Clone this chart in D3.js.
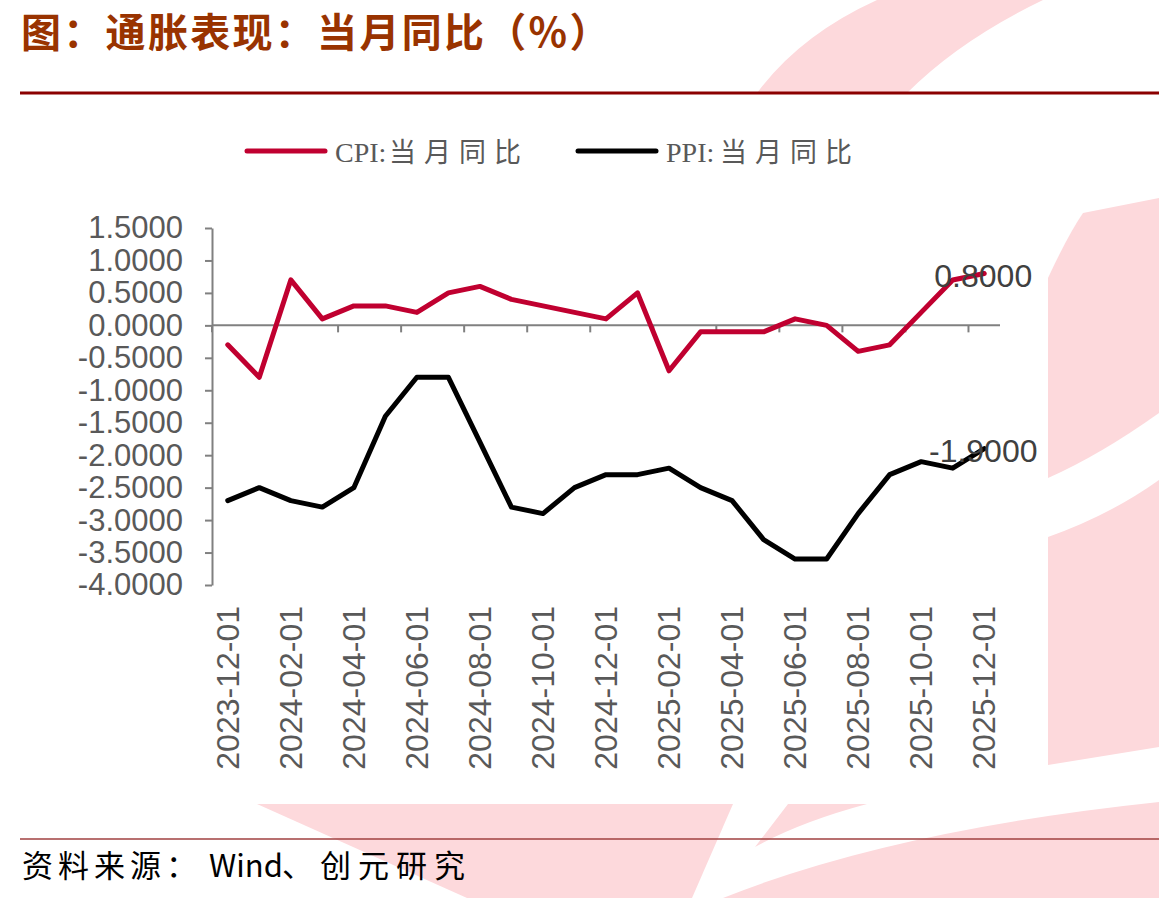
<!DOCTYPE html>
<html>
<head>
<meta charset="utf-8">
<script src="https://cdn.jsdelivr.net/npm/d3@7"></script>
<style>
  body { margin: 0; background: #fff; }
  svg { display: block; }
</style>
</head>
<body>
<div id="chart"></div>
<script>
// data
var months = ["2023-12-01","2024-01-01","2024-02-01","2024-03-01","2024-04-01","2024-05-01",
              "2024-06-01","2024-07-01","2024-08-01","2024-09-01","2024-10-01","2024-11-01",
              "2024-12-01","2025-01-01","2025-02-01","2025-03-01","2025-04-01","2025-05-01",
              "2025-06-01","2025-07-01","2025-08-01","2025-09-01","2025-10-01","2025-11-01",
              "2025-12-01"];
var cpi = [-0.3, -0.8, 0.7, 0.1, 0.3, 0.3, 0.2, 0.5, 0.6, 0.4, 0.3, 0.2,
           0.1, 0.5, -0.7, -0.1, -0.1, -0.1, 0.1, 0.0, -0.4, -0.3, 0.2, 0.7, 0.8];
var ppi = [-2.7, -2.5, -2.7, -2.8, -2.5, -1.4, -0.8, -0.8, -1.8, -2.8, -2.9, -2.5,
           -2.3, -2.3, -2.2, -2.5, -2.7, -3.3, -3.6, -3.6, -2.9, -2.3, -2.1, -2.2, -1.9];
var yTicks = [1.5, 1.0, 0.5, 0.0, -0.5, -1.0, -1.5, -2.0, -2.5, -3.0, -3.5, -4.0];
var seriesCodes = ["CPI:", "PPI:"];
var seriesNames = ["当月同比", "当月同比"];
var seriesColors = ["#c00030", "#000000"];

var W = 1159, H = 898;
var svg = d3.select("#chart").append("svg")
    .attr("width", W)
    .attr("height", H);

// number format with plain hyphen like the original
var fmt = function(v) { return d3.format(".4f")(v).replace("\u2212", "-"); };

// background watermark
var pink = "#fdd9dc";
var shapes = [
  "M757,93 Q800,35 877,0 L1043,0 Q960,40 907,93 Z",
  "M1048,278 Q1068,235 1083,213 L1159,198 L1159,413 Q1100,455 1048,478 Z",
  "M1048,537 Q1110,515 1159,480 L1159,747 L1048,765 Z",
  "M257,804 L733,804 L692,898 L467,898 Z",
  "M788,804 L867,804 Q800,822 755,847 Z",
  "M723,898 Q893,830 1159,802 L1159,898 Z"
];
svg.selectAll(".wm").data(shapes).enter().append("path")
    .attr("class", "wm")
    .attr("d", function(d) { return d; })
    .attr("fill", pink);

// title
svg.append("text")
    .attr("x", 21).attr("y", 47)
    .attr("font-family", "'Noto Sans CJK SC', sans-serif")
    .attr("font-weight", "bold")
    .attr("font-size", 40)
    .attr("letter-spacing", 2.3)
    .attr("fill", "#993300")
    .text("图：通胀表现：当月同比（%）");

svg.append("line")
    .attr("x1", 20).attr("x2", W).attr("y1", 93).attr("y2", 93)
    .attr("stroke", "#8b0000").attr("stroke-width", 3);

// footer
svg.append("line")
    .attr("x1", 20).attr("x2", W).attr("y1", 839).attr("y2", 839)
    .attr("stroke", "#a04040").attr("stroke-width", 1.5);

var foot = svg.append("text")
    .attr("y", 877)
    .attr("font-family", "'Noto Sans CJK SC', sans-serif")
    .attr("font-size", 31)
    .attr("fill", "#000");
foot.append("tspan").attr("x", 22).attr("letter-spacing", 5).text("资料来源：");
foot.append("tspan").attr("x", 209).text("Wind");
foot.append("tspan").attr("x", 282).attr("letter-spacing", 7).text("、创元研究");

// legend
var legend = svg.selectAll(".legend").data(seriesNames).enter().append("g")
    .attr("class", "legend")
    .attr("transform", function(d, i) { return "translate(" + (247 + i * 331) + ",151)"; });

legend.append("line")
    .attr("x1", 0).attr("x2", 78).attr("y1", 0).attr("y2", 0)
    .attr("stroke", function(d, i) { return seriesColors[i]; })
    .attr("stroke-width", 5)
    .attr("stroke-linecap", "round");

var ltext = legend.append("text")
    .attr("y", 11)
    .attr("font-size", 28)
    .attr("fill", "#595959");
ltext.append("tspan")
    .attr("x", 88)
    .attr("font-family", "'Liberation Serif', serif")
    .text(function(d, i) { return seriesCodes[i]; });
ltext.append("tspan")
    .attr("x", 142)
    .attr("font-family", "'Noto Sans CJK SC', sans-serif")
    .attr("font-size", 27)
    .attr("letter-spacing", 8)
    .text(function(d) { return d; });

// scales
var x = d3.scaleBand()
    .domain(months)
    .range([212, 1000])
    .padding(0);
var bw = x.bandwidth();

var y = d3.scaleLinear()
    .domain([-4, 1.5])
    .range([585, 228]);

var axisColor = "#808080";
var labelFont = "'Liberation Sans', Arial, sans-serif";

// y axis
var yAxis = svg.append("g")
    .attr("transform", "translate(212,0)")
    .call(d3.axisLeft(y).tickValues(yTicks).tickFormat(fmt).tickSize(7).tickSizeOuter(0).tickPadding(22));
yAxis.select(".domain").attr("stroke", axisColor).attr("stroke-width", 2);
yAxis.selectAll(".tick line").attr("stroke", axisColor).attr("stroke-width", 2);
yAxis.selectAll(".tick text")
    .attr("font-family", labelFont)
    .attr("font-size", 31)
    .attr("fill", "#595959");

// x axis line at zero with ticks between categories
svg.append("line")
    .attr("x1", 212).attr("x2", 1000)
    .attr("y1", y(0)).attr("y2", y(0))
    .attr("stroke", axisColor).attr("stroke-width", 2);

var labelMonths = months.filter(function(d, i) { return i % 2 === 0; });

svg.selectAll(".xtick").data(labelMonths).enter().append("line")
    .attr("class", "xtick")
    .attr("x1", function(d) { return x(d); })
    .attr("x2", function(d) { return x(d); })
    .attr("y1", y(0)).attr("y2", y(0) + 7)
    .attr("stroke", axisColor).attr("stroke-width", 2);

svg.selectAll(".xlabel").data(labelMonths).enter().append("text")
    .attr("class", "xlabel")
    .attr("transform", function(d) { return "translate(" + (x(d) + bw / 2 + 11) + ",606) rotate(-90)"; })
    .attr("text-anchor", "end")
    .attr("font-family", labelFont)
    .attr("font-size", 32)
    .attr("fill", "#595959")
    .text(function(d) { return d; });

// lines
var line = d3.line()
    .x(function(d, i) { return x(months[i]) + bw / 2; })
    .y(function(d) { return y(d); });

[cpi, ppi].forEach(function(s, k) {
    svg.append("path")
        .datum(s)
        .attr("d", line)
        .attr("fill", "none")
        .attr("stroke", seriesColors[k])
        .attr("stroke-width", 5)
        .attr("stroke-linejoin", "round")
        .attr("stroke-linecap", "round");
});

// end labels
var last = months.length - 1;
[cpi, ppi].forEach(function(s, k) {
    svg.append("text")
        .attr("x", x(months[last]) + bw / 2 - 1)
        .attr("y", y(s[last]) + 2)
        .attr("dy", "0.35em")
        .attr("text-anchor", "middle")
        .attr("font-family", labelFont)
        .attr("font-size", 32)
        .attr("fill", "#404040")
        .text(fmt(s[last]));
});
</script>
</body>
</html>
